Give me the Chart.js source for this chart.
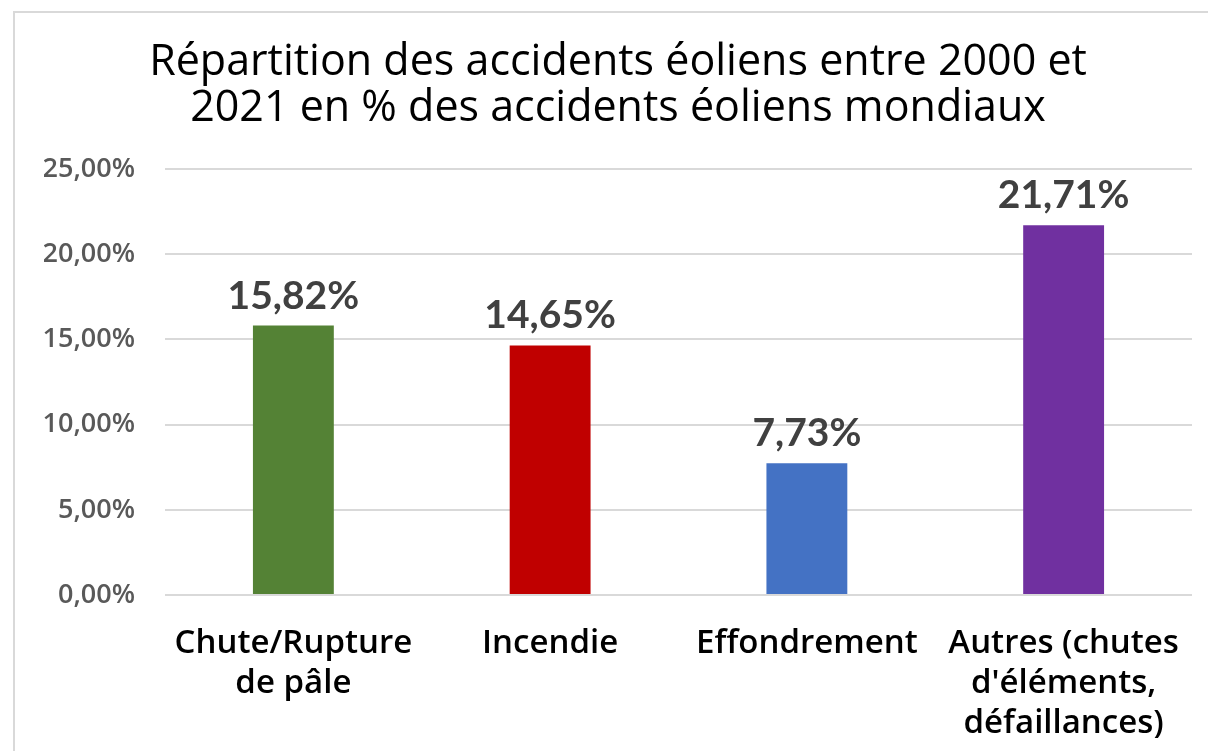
<!DOCTYPE html>
<html lang="fr">
<head>
<meta charset="utf-8">
<title>Répartition des accidents éoliens</title>
<script src="https://cdn.jsdelivr.net/npm/chart.js@4"></script>
<style>
    html, body { margin: 0; padding: 0; background: #fff; }
    #wrap { position: relative; width: 1208px; height: 751px; overflow: hidden; }
    #frame {
        position: absolute; left: 13px; top: 11px; width: 1220px; height: 780px;
        border: 2px solid #d9d9d9; box-sizing: border-box;
    }
    canvas { position: absolute; left: 0; top: 0; }
</style>
</head>
<body>
<div id="wrap">
    <div id="frame"></div>
    <canvas id="accidentsChart" width="1208" height="751"></canvas>
</div>
<script>
const categories = [
    ['Chute/Rupture', 'de pâle'],
    'Incendie',
    'Effondrement',
    ['Autres (chutes', "d'éléments,", 'défaillances)']
];
const shares = [15.82, 14.65, 7.73, 21.71];
const barColors = ['#548235', '#C00000', '#4472C4', '#7030A0'];
const yTicks = [0, 5, 10, 15, 20, 25];

const titleFont = '"Open Sans", Lato, sans-serif';
const fontFamily = 'Lato, "Open Sans", sans-serif';
const pct = (v) => v.toFixed(2).replace('.', ',') + '%';

// etiquettes au-dessus des barres
const valueLabels = {
    id: 'valueLabels',
    afterDatasetsDraw(chart) {
        const ctx = chart.ctx;
        const meta = chart.getDatasetMeta(0);
        ctx.save();
        ctx.font = `bold 39px ${fontFamily}`;
        ctx.fillStyle = '#404040';
        ctx.textAlign = 'center';
        ctx.textBaseline = 'alphabetic';
        meta.data.forEach((bar, i) => {
            ctx.fillText(pct(shares[i]), bar.x, bar.y - 17);
        });
        ctx.restore();
    }
};

const chartCanvas = document.getElementById('accidentsChart');
new Chart(chartCanvas, {
    type: 'bar',
    data: {
        labels: categories,
        datasets: [{
            data: shares,
            backgroundColor: barColors,
            borderWidth: 0,
            categoryPercentage: 1,
            barPercentage: 0.315
        }]
    },
    options: {
        responsive: false,
        animation: false,
        layout: { padding: { left: 44, right: 16, top: 0, bottom: 13 } },
        plugins: {
            legend: { display: false },
            tooltip: { enabled: false },
            title: {
                display: true,
                text: ['Répartition des accidents éoliens entre 2000 et', '2021 en % des accidents éoliens mondiaux'],
                color: '#000000',
                font: { family: titleFont, size: 43, weight: 'normal', lineHeight: 1.06 },
                padding: { top: 40, bottom: 38 }
            }
        },
        scales: {
            x: {
                afterFit(scale) {
                    scale.height = 143;
                },
                grid: { display: false },
                border: { display: false },
                ticks: {
                    color: '#000000',
                    font: { family: titleFont, size: 33, weight: '600', lineHeight: 1.22 },
                    padding: 20,
                    maxRotation: 0,
                    autoSkip: false
                }
            },
            y: {
                min: 0,
                max: 25,
                afterBuildTicks(scale) {
                    scale.ticks = yTicks.map((v) => ({ value: v }));
                },
                afterFit(scale) {
                    scale.width = 121;
                },
                grid: { color: '#d9d9d9', lineWidth: 2, drawTicks: false },
                border: { display: false },
                ticks: {
                    color: '#595959',
                    font: { family: titleFont, size: 27, weight: '600' },
                    padding: 30,
                    callback: (v) => pct(v)
                }
            }
        }
    },
    plugins: [valueLabels]
});
</script>
</body>
</html>
